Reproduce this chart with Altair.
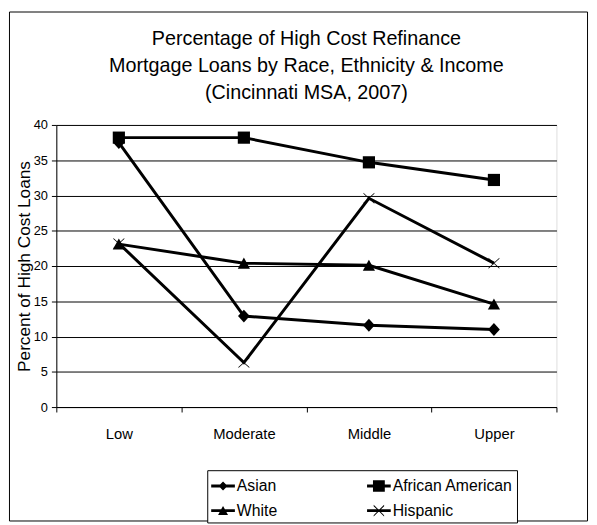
import altair as alt
import pandas as pd

categories = ["Low", "Moderate", "Middle", "Upper"]
series_names = ["Asian", "African American", "White", "Hispanic"]
asian = [37.5, 12.9, 11.6, 11.0]
african_american = [38.2, 38.2, 34.7, 32.2]
white = [23.1, 20.4, 20.1, 14.6]
hispanic = [23.2, 6.3, 29.6, 20.4]

# legend reading order (filled column by column: Asian/White, then African American/Hispanic)
legend_order = ["Asian", "White", "African American", "Hispanic"]

rows = []
for name, vals in zip(series_names, [asian, african_american, white, hispanic]):
    for i, (c, v) in enumerate(zip(categories, vals)):
        rows.append({"income": c, "series": name, "pct": v, "idx": i})
df = pd.DataFrame(rows)

FONT = "Liberation Sans, Arial, sans-serif"

# marker glyphs (filled outlines, unit box [-1, 1])
marker_paths = {
    "Asian": "M0,-1L0.92,0L0,1L-0.92,0Z",
    "African American": "M-0.95,-0.95L0.95,-0.95L0.95,0.95L-0.95,0.95Z",
    "White": "M0,-0.88L0.95,0.85L-0.95,0.85Z",
    "Hispanic": "M-0.85,-0.85L0.85,0.7L0.85,0.85L-0.85,-0.7ZM-0.85,0.7L0.85,-0.85L0.85,-0.7L-0.85,0.85Z",
}
# legend glyphs: line segment + marker
LINE = "M-1,-0.12L1,-0.12L1,0.12L-1,0.12Z"
legend_paths = {
    "Asian": LINE + "M0,-0.38L0.38,0L0,0.38L-0.38,0Z",
    "African American": LINE + "M-0.5,-0.48L0.5,-0.48L0.5,0.48L-0.5,0.48Z",
    "White": LINE + "M0,-0.4L0.42,0.36L-0.42,0.36Z",
    "Hispanic": LINE + "M-0.44,-0.5L0.44,0.38L0.44,0.5L-0.44,-0.38ZM-0.44,0.38L0.44,-0.5L0.44,-0.38L-0.44,0.5Z",
}

x_enc = alt.X(
    "income:N",
    sort=categories,
    scale=alt.Scale(type="band", paddingInner=0, paddingOuter=0),
    axis=alt.Axis(
        title=None, tickBand="extent", labelFont=FONT, labelFontSize=15,
        labelColor="black", labelPadding=15, tickSize=5, tickColor="black",
        domainColor="black", labelAngle=0, grid=False,
    ),
)
y_enc = alt.Y(
    "pct:Q",
    scale=alt.Scale(domain=[0, 40], nice=False),
    axis=alt.Axis(
        values=list(range(0, 41, 5)), title="Percent of High Cost Loans",
        titleFont=FONT, titleFontSize=17.5, titleFontWeight="normal", titleColor="black",
        titleAngle=270, titleX=-32, titleY=143, titleAlign="center", titleBaseline="middle",
        labelFont=FONT, labelFontSize=13, labelColor="black", tickSize=5,
        tickColor="black", labelPadding=4, domainColor="black",
        grid=True, gridColor="black", gridWidth=1, gridOpacity=1,
    ),
)

base = alt.Chart(df)

lines = base.mark_line(color="black", strokeWidth=3).encode(
    x=x_enc, y=y_enc, detail="series:N", order="idx:Q"
)

points = base.mark_point(filled=True, color="black", size=169, opacity=1, strokeWidth=0).encode(
    x=x_enc, y=y_enc,
    shape=alt.Shape(
        "series:N",
        scale=alt.Scale(domain=series_names, range=[marker_paths[s] for s in series_names]),
        legend=None,
    ),
)

legend_layer = base.transform_filter("false").mark_point(
    filled=True, color="black", strokeWidth=0, opacity=1
).encode(
    x=x_enc, y=y_enc,
    shape=alt.Shape(
        "series:N",
        scale=alt.Scale(domain=legend_order, range=[legend_paths[s] for s in legend_order]),
        legend=alt.Legend(
            title=None, orient="none", legendX=153, legendY=350, columns=2,
            columnPadding=91, rowPadding=5, padding=4, strokeColor="black",
            fillColor="white", symbolSize=576, symbolStrokeWidth=0,
            symbolFillColor="black", labelFont=FONT, labelFontSize=16,
            labelColor="black", labelOffset=2, labelLimit=300,
        ),
    ),
)

frame = alt.Chart(alt.Data(values=[{}])).mark_rect(
    filled=False, stroke="black", strokeWidth=1, clip=False
).encode(
    x=alt.value(-47.5), x2=alt.value(538.5), y=alt.value(-114.5), y2=alt.value(401.5)
)

chart = alt.layer(frame, lines, points, legend_layer).resolve_scale(
    shape="independent"
).properties(
    width=507,
    height=286,
    autosize=alt.AutoSizeParams(type="none"),
    padding={"left": 49, "top": 115, "right": 33, "bottom": 116},
    title=alt.TitleParams(
        text=["Percentage of High Cost Refinance",
              "Mortgage Loans by Race, Ethnicity & Income",
              "(Cincinnati MSA, 2007)"],
        font=FONT, fontSize=20, fontWeight="normal", color="black",
        anchor="middle", offset=0, dy=93, lineHeight=27.5,
    ),
).configure_view(stroke="#808080", strokeWidth=1).configure(background="white")

chart.save("out.html", embed_options={"renderer": "svg", "actions": False})
